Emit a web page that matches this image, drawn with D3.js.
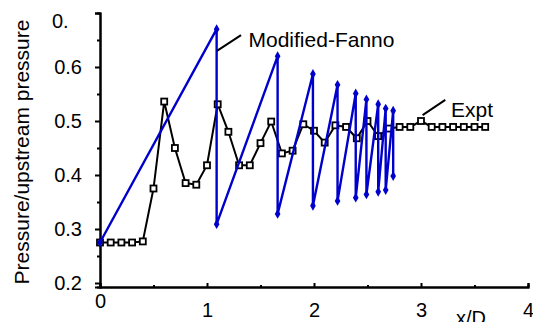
<!DOCTYPE html>
<html>
<head>
<meta charset="utf-8">
<script src="https://cdn.jsdelivr.net/npm/d3@7"></script>
<style>
  body { margin: 0; background: #fff; }
  text { font-family: "Liberation Sans", Arial, sans-serif; }
</style>
</head>
<body>
<div id="chart"></div>
<script>
// Experimental data, x/D every 0.1
const exptX = [0, 0.1, 0.2, 0.3, 0.4, 0.5, 0.6, 0.7, 0.8, 0.9, 1.0, 1.1, 1.2, 1.3, 1.4, 1.5, 1.6, 1.7, 1.8, 1.9,
               2.0, 2.1, 2.2, 2.3, 2.4, 2.5, 2.6, 2.7, 2.8, 2.9, 3.0, 3.1, 3.2, 3.3, 3.4, 3.5, 3.6];
const exptY = [0.275, 0.275, 0.275, 0.275, 0.277, 0.375, 0.536, 0.45, 0.385, 0.382, 0.418, 0.531, 0.48, 0.418, 0.418,
               0.459, 0.499, 0.44, 0.445, 0.494, 0.482, 0.46, 0.492, 0.489, 0.468, 0.5, 0.472, 0.486, 0.489, 0.489,
               0.5, 0.489, 0.489, 0.489, 0.489, 0.489, 0.489];

// Modified-Fanno prediction (saw-tooth)
const fannoX = [0, 1.09, 1.09, 1.66, 1.66, 1.99, 1.99, 2.22, 2.22, 2.39, 2.39, 2.49, 2.49, 2.60, 2.60, 2.67, 2.67, 2.74, 2.74];
const fannoY = [0.275, 0.670, 0.309, 0.620, 0.328, 0.587, 0.343, 0.567, 0.352, 0.551, 0.358, 0.540, 0.364,
                0.531, 0.369, 0.523, 0.372, 0.519, 0.398];

const yTicks = [0.2, 0.3, 0.4, 0.5, 0.6, 0.7];
const yMinor = [0.25, 0.35, 0.45, 0.55, 0.65];
const xTicks = [0, 1, 2, 3, 4];
const xMinor = [0.5, 1.5, 2.5, 3.5];

const WIDTH = 533, HEIGHT = 322;
const BLUE = "#0000cc";

const svg = d3.select("#chart").append("svg")
    .attr("width", WIDTH)
    .attr("height", HEIGHT);

const xScale = d3.scaleLinear().domain([0, 4]).range([100, 528]);
const yScale = d3.scaleLinear().domain([0.1926, 0.7]).range([287, 13]);

// minor ticks first, in their own groups
svg.append("g")
    .attr("transform", `translate(${xScale(0)},0)`)
    .call(d3.axisLeft(yScale).tickValues(yMinor).tickSize(3).tickFormat(""));
svg.append("g")
    .attr("transform", `translate(0,287)`)
    .call(d3.axisBottom(xScale).tickValues(xMinor).tickSize(-2).tickFormat(""));

// y axis: ticks outward, "0.7" shows as "0." like the original
const yAxis = svg.append("g")
    .attr("transform", `translate(${xScale(0)},0)`)
    .call(d3.axisLeft(yScale).tickValues(yTicks).tickSize(5).tickPadding(13)
        .tickFormat(d => d === 0.7 ? "0." : d3.format(".1f")(d)));
yAxis.selectAll("text")
    .style("font-size", "20px")
    .attr("fill", "#000");
yAxis.selectAll(".tick").filter(d => d === 0.7).select("text")
    .attr("text-anchor", "start").attr("x", -48).attr("dy", "0.7em");

// x axis: ticks pointing up
const xAxis = svg.append("g")
    .attr("transform", `translate(0,287)`)
    .call(d3.axisBottom(xScale).tickValues(xTicks).tickSize(-4).tickPadding(0).tickFormat(d3.format("d")));
xAxis.selectAll("text")
    .style("font-size", "20px")
    .attr("fill", "#000")
    .attr("y", d => d === 0 ? 7 : 16);

svg.selectAll(".domain, .tick line")
    .attr("stroke", "#000")
    .attr("stroke-width", 2);

// axis titles
svg.append("text")
    .attr("x", 471).attr("y", 325)
    .attr("text-anchor", "middle")
    .style("font-size", "20px")
    .text("x/D");

svg.append("text")
    .attr("transform", "translate(29,152) rotate(-90)")
    .attr("text-anchor", "middle")
    .style("font-size", "21px")
    .text("Pressure/upstream pressure");

const line = d3.line().x(d => xScale(d[0])).y(d => yScale(d[1]));

// experiment line + hollow squares
const expt = exptX.map((x, i) => [x, exptY[i]]);
svg.append("path")
    .datum(expt)
    .attr("d", line)
    .attr("fill", "none")
    .attr("stroke", "#000")
    .attr("stroke-width", 2);
svg.selectAll(".sq")
    .data(expt)
    .enter().append("rect")
    .attr("class", "sq")
    .attr("x", d => xScale(d[0]) - 3)
    .attr("y", d => yScale(d[1]) - 3)
    .attr("width", 6).attr("height", 6)
    .attr("fill", "#fff")
    .attr("stroke", "#000")
    .attr("stroke-width", 1.8);

// modified-Fanno line + small diamonds
const fanno = fannoX.map((x, i) => [x, fannoY[i]]);
svg.append("path")
    .datum(fanno)
    .attr("d", line)
    .attr("fill", "none")
    .attr("stroke", BLUE)
    .attr("stroke-width", 2.4);
svg.selectAll(".dm")
    .data(fanno)
    .enter().append("path")
    .attr("class", "dm")
    .attr("transform", d => `translate(${xScale(d[0])},${yScale(d[1])})`)
    .attr("d", d3.symbol().type(d3.symbolDiamond).size(28))
    .attr("fill", BLUE);

// annotations with leader lines
function label(x0, y0, x1, y1, tx, ty, txt) {
    svg.append("line")
        .attr("x1", xScale(x0)).attr("y1", yScale(y0))
        .attr("x2", xScale(x1)).attr("y2", yScale(y1))
        .attr("stroke", "#000").attr("stroke-width", 2);
    svg.append("text")
        .attr("x", xScale(tx)).attr("y", yScale(ty))
        .style("font-size", "21px")
        .text(txt);
}
label(1.093, 0.630, 1.318, 0.659, 1.388, 0.6376, "Modified-Fanno");
label(3.015, 0.511, 3.227, 0.539, 3.28, 0.508, "Expt");
</script>
</body>
</html>
